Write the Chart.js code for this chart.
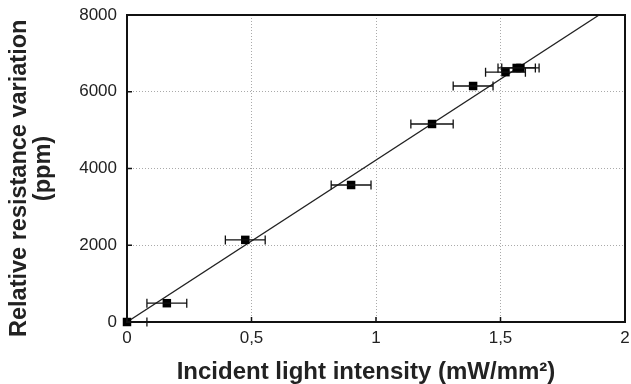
<!DOCTYPE html>
<html lang="en">
<head>
    <meta charset="UTF-8">
    <title>Relative resistance variation vs incident light intensity</title>
    <script src="https://cdn.jsdelivr.net/npm/chart.js"></script>
    <style>
        html, body { margin: 0; padding: 0; background: #fff; }
        .wrap { width: 631px; height: 384px; }
    </style>
</head>
<body>
    <div class="wrap"><canvas id="chart" width="631" height="384"></canvas></div>

    <script>
        // measured points (intensity in mW/mm2, variation in ppm)
        const intensity = [0, 0.16, 0.475, 0.90, 1.225, 1.39, 1.52, 1.565, 1.58];
        const variation = [0, 490, 2140, 3570, 5160, 6150, 6510, 6620, 6620];
        const intensityErr = [0.08, 0.08, 0.08, 0.08, 0.085, 0.08, 0.08, 0.075, 0.075];

        // linear fit through origin
        const fitX = [0, 1.896];
        const fitY = [0, 8000];

        const xTicks = [0, 0.5, 1, 1.5, 2];
        const yTicks = [0, 2000, 4000, 6000, 8000];

        const font = "'Liberation Sans', Arial, sans-serif";

        const errorBars = {
            id: 'errorBars',
            afterDatasetsDraw(chart) {
                const ctx = chart.ctx;
                const xs = chart.scales.x, ys = chart.scales.y;
                ctx.save();
                ctx.strokeStyle = '#111';
                ctx.lineWidth = 1.3;
                intensity.forEach((x, i) => {
                    const y = ys.getPixelForValue(variation[i]);
                    const x0 = xs.getPixelForValue(x - intensityErr[i]);
                    const x1 = xs.getPixelForValue(x + intensityErr[i]);
                    ctx.beginPath();
                    ctx.moveTo(Math.max(x0, chart.chartArea.left), y);
                    ctx.lineTo(x1, y);
                    if (x0 >= chart.chartArea.left) {
                        ctx.moveTo(x0, y - 4.5); ctx.lineTo(x0, y + 4.5);
                    }
                    ctx.moveTo(x1, y - 4.5); ctx.lineTo(x1, y + 4.5);
                    ctx.stroke();
                });
                ctx.restore();
            }
        };

        const frame = {
            id: 'frame',
            afterDraw(chart) {
                const { left, right, top, bottom } = chart.chartArea;
                const ctx = chart.ctx;
                ctx.save();
                ctx.strokeStyle = '#111';
                ctx.lineWidth = 2;
                ctx.strokeRect(left, top, right - left, bottom - top);
                ctx.lineWidth = 1.5;
                ctx.beginPath();
                xTicks.slice(1, -1).forEach(v => {
                    const px = chart.scales.x.getPixelForValue(v);
                    ctx.moveTo(px, bottom); ctx.lineTo(px, bottom - 5);
                });
                yTicks.slice(1, -1).forEach(v => {
                    const py = chart.scales.y.getPixelForValue(v);
                    ctx.moveTo(left, py); ctx.lineTo(left + 5, py);
                });
                ctx.stroke();
                ctx.restore();
            }
        };

        new Chart(document.getElementById('chart'), {
            type: 'scatter',
            data: {
                datasets: [
                    {
                        label: 'Fit',
                        data: fitX.map((x, i) => ({ x, y: fitY[i] })),
                        showLine: true,
                        borderColor: '#222',
                        borderWidth: 1.3,
                        pointRadius: 0,
                        order: 2
                    },
                    {
                        label: 'Measured',
                        data: intensity.map((x, i) => ({ x, y: variation[i] })),
                        pointStyle: 'rect',
                        pointRadius: 6,
                        backgroundColor: '#000',
                        borderColor: '#000',
                        borderWidth: 0,
                        clip: false,
                        order: 1
                    }
                ]
            },
            options: {
                responsive: false,
                animation: false,
                layout: { padding: { left: 0, right: -2, top: 15, bottom: 0 } },
                plugins: { legend: { display: false }, tooltip: { enabled: false } },
                scales: {
                    x: {
                        type: 'linear',
                        min: 0, max: 2,
                        afterBuildTicks: s => { s.ticks = xTicks.map(v => ({ value: v })); },
                        afterFit: s => { s.height = 62; s.paddingLeft = 0; s.paddingRight = 0; },
                        grid: { color: '#aaa', drawTicks: false },
                        border: { display: false, dash: [1, 2] },
                        ticks: {
                            padding: 6,
                            color: '#222',
                            font: { family: font, size: 17 },
                            callback: v => String(v).replace('.', ',')
                        },
                        title: {
                            display: true,
                            // trailing spaces nudge the centred title left, as in the original
                            text: 'Incident light intensity (mW/mm²)   ',
                            color: '#222',
                            font: { family: font, size: 24, weight: 'bold', lineHeight: 1.0 },
                            padding: { top: 0, bottom: 0 }
                        }
                    },
                    y: {
                        type: 'linear',
                        min: 0, max: 8000,
                        afterBuildTicks: s => { s.ticks = yTicks.map(v => ({ value: v })); },
                        afterFit: s => { s.width = 127; s.paddingTop = 0; s.paddingBottom = 0; },
                        grid: { color: '#aaa', drawTicks: false },
                        border: { display: false, dash: [1, 2] },
                        ticks: {
                            padding: 10,
                            color: '#222',
                            font: { family: font, size: 17 },
                            callback: v => String(v)
                        },
                        title: {
                            display: true,
                            text: ['Relative resistance variation   ', '(ppm)'],
                            color: '#222',
                            font: { family: font, size: 23.5, weight: 'bold', lineHeight: 1.0 },
                            padding: { top: 8, bottom: 0 }
                        }
                    }
                }
            },
            plugins: [errorBars, frame]
        });
    </script>
</body>
</html>
